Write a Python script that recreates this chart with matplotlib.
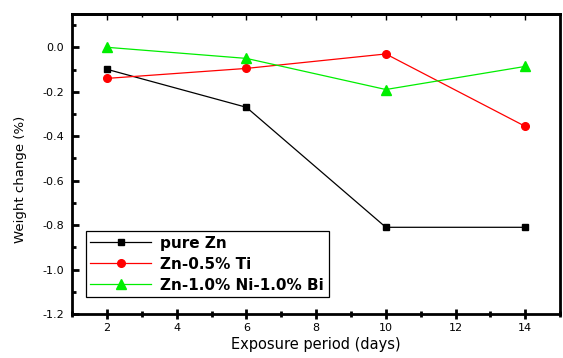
import matplotlib
matplotlib.use('Agg')
import matplotlib.pyplot as plt
from matplotlib.ticker import MultipleLocator, FormatStrFormatter

plt.rcParams['font.family'] = 'DejaVu Sans'

days = [2, 6, 10, 14]
pure_zn = [-0.099, -0.27, -0.81, -0.81]
zn_ti = [-0.14, -0.095, -0.03, -0.356]
zn_ni_bi = [0.0, -0.05, -0.19, -0.086]

fig = plt.figure(figsize=(5.63, 3.58), dpi=100)
ax = fig.add_axes([0.128, 0.123, 0.867, 0.838])

ax.plot(days, pure_zn, color='black', lw=0.9, marker='s', ms=5, label='pure Zn')
ax.plot(days, zn_ti, color='red', lw=0.9, marker='o', ms=5.5, label='Zn-0.5% Ti')
ax.plot(days, zn_ni_bi, color='#00ee00', lw=0.9, marker='^', ms=6.5, label='Zn-1.0% Ni-1.0% Bi')

ax.set_xlim(1, 15)
ax.set_ylim(-1.2, 0.15)
ax.xaxis.set_major_locator(MultipleLocator(2))
ax.xaxis.set_minor_locator(MultipleLocator(1))
ax.yaxis.set_major_locator(MultipleLocator(0.2))
ax.yaxis.set_minor_locator(MultipleLocator(0.1))
ax.yaxis.set_major_formatter(FormatStrFormatter('%.1f'))

ax.tick_params(which='both', top=False, right=False, labelsize=8, width=2)
ax.tick_params(axis='x', which='both', direction='inout')
ax.tick_params(axis='x', which='major', length=7, pad=3)
ax.tick_params(axis='x', which='minor', length=4)
ax.tick_params(axis='y', which='both', direction='in', pad=6)
ax.tick_params(axis='y', which='major', length=5)
ax.tick_params(axis='y', which='minor', length=3)
for s in ax.spines.values():
    s.set_linewidth(2)

top = ax.secondary_xaxis('top')
top.xaxis.set_major_locator(MultipleLocator(2))
top.xaxis.set_minor_locator(MultipleLocator(1))
top.tick_params(which='both', direction='in', width=1, labeltop=False)
top.tick_params(which='major', length=4)
top.tick_params(which='minor', length=2)
top.spines['top'].set_linewidth(2)

ax.set_xlabel('Exposure period (days)', fontsize=10.5, labelpad=3)
ax.set_ylabel('Weight change (%)', fontsize=9.5)
ax.yaxis.set_label_coords(-0.092, 0.45)

leg = ax.legend(loc='lower left', bbox_to_anchor=(0.012, 0.03), fancybox=False,
                edgecolor='black', framealpha=1, borderpad=0.3, labelspacing=0.4,
                handlelength=4.0, handletextpad=0.6,
                prop={'weight': 'bold', 'size': 11})
leg.get_frame().set_linewidth(0.9)

fig.savefig('out.png', dpi=100)
